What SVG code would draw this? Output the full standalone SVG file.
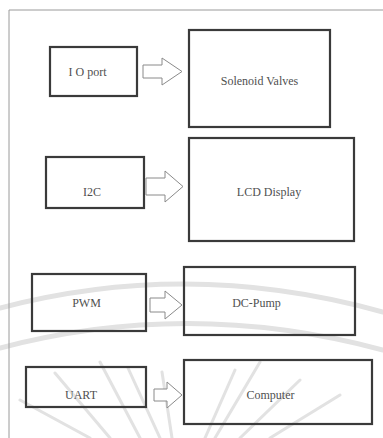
<svg xmlns="http://www.w3.org/2000/svg" width="383" height="438" viewBox="0 0 383 438">
<style>
.box{fill:none;stroke:#3a3a3a;stroke-width:2.2}
.arr{fill:#fff;stroke:#8a8a8a;stroke-width:1}
.t{font-family:"Liberation Serif","Times New Roman",serif;font-size:12px;fill:#505050;text-anchor:middle}
.wm{fill:none;stroke:#e2e2e2;stroke-linecap:round}
</style>
<rect width="383" height="438" fill="#fff"/>
<g id="watermark">
<path class="wm" stroke-width="5" d="M0,308 Q190,258 383,312"/>
<path class="wm" stroke-width="5" d="M0,348 Q190,298 383,350"/>
<path class="wm" stroke-width="3" d="M55,373 L110,438"/>
<path class="wm" stroke-width="3" d="M100,362 L140,438"/>
<path class="wm" stroke-width="3" d="M128,368 L160,438"/>
<path class="wm" stroke-width="3" d="M162,372 L172,438"/>
<path class="wm" stroke-width="3" d="M260,362 L215,438"/>
<path class="wm" stroke-width="3" d="M235,370 L205,438"/>
<path class="wm" stroke-width="3" d="M300,380 L240,438"/>
<path class="wm" stroke-width="3" d="M340,395 L270,438"/>
<path class="wm" stroke-width="3" d="M20,400 L90,438"/>
</g>
<g id="frame">
<path d="M9,10 H383 M9,10 V438" fill="none" stroke="#9a9a9a" stroke-width="1"/>
</g>
<g id="connectors">
<path class="arr" d="M143,65 H162 V58 L182,71.5 L162,85 V78 H143 Z"/>
<path class="arr" d="M146,178 H165 V171 L183,186.5 L165,202 V195 H146 Z"/>
<path class="arr" d="M150,298 H165 V291 L182,305 L165,319 V312 H150 Z"/>
<path class="arr" d="M154,389 H167 V382 L182,395 L167,408 V401 H154 Z"/>
</g>
<g id="io-port"><rect class="box" x="50" y="47" width="87" height="49"/><text class="t" x="87.5" y="76">I O port</text></g>
<g id="solenoid-valves"><rect class="box" x="189" y="30" width="141" height="97"/><text class="t" x="259.5" y="85">Solenoid Valves</text></g>
<g id="i2c"><rect class="box" x="46" y="157" width="98" height="51"/><text class="t" x="92" y="196">I2C</text></g>
<g id="lcd-display"><rect class="box" x="189" y="138" width="165" height="103"/><text class="t" x="269" y="196">LCD Display</text></g>
<g id="pwm"><rect class="box" x="32" y="274" width="114" height="57"/><text class="t" x="86.5" y="307">PWM</text></g>
<g id="dc-pump"><rect class="box" x="184" y="267" width="171" height="68"/><text class="t" x="256.5" y="307">DC-Pump</text></g>
<g id="uart"><rect class="box" x="26" y="367" width="120" height="40"/><text class="t" x="81" y="399">UART</text></g>
<g id="computer"><rect class="box" x="184" y="360" width="188" height="64"/><text class="t" x="270.5" y="399">Computer</text></g>
</svg>
